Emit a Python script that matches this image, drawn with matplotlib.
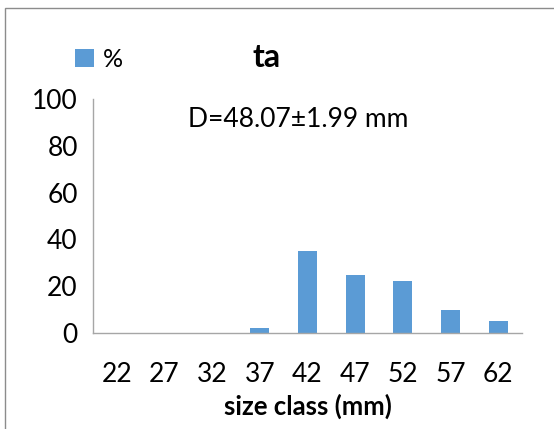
import matplotlib
matplotlib.use("Agg")
import matplotlib.pyplot as plt
from matplotlib.patches import Rectangle

# size classes (mm) and share of individuals (%)
size_classes = ["22", "27", "32", "37", "42", "47", "52", "57", "62"]
percent = [0, 0, 0, 2, 35, 25, 22.3, 10, 5]

BAR_COLOUR = "#5B9BD5"
AXIS_COLOUR = "#A6A6A6"
FONT = "Lato"

plt.rcParams["font.family"] = [FONT, "DejaVu Sans"]

fig = plt.figure(figsize=(5.54, 4.29), dpi=100)
ax = fig.add_axes([0.168, 0.2238, 0.774, 0.545])

x = list(range(len(size_classes)))
ax.bar(x, percent, width=0.4, color=BAR_COLOUR, label="%")

ax.set_xlim(-0.5, len(size_classes) - 0.5)
ax.set_ylim(0, 100)
ax.set_yticks([0, 20, 40, 60, 80, 100])
ax.set_xticks(x)
ax.set_xticklabels(size_classes)
ax.tick_params(axis="both", length=0, labelsize=19)
ax.tick_params(axis="x", pad=21)
ax.tick_params(axis="y", pad=11)

for side in ["top", "right"]:
    ax.spines[side].set_visible(False)
for side in ["left", "bottom"]:
    ax.spines[side].set_color(AXIS_COLOUR)
    ax.spines[side].set_linewidth(1.0)

ax.set_xlabel("size class (mm)", fontsize=18.5, fontweight="bold", labelpad=5)

ax.text(3.8, 91.5, "D=48.07\u00b11.99 mm", ha="center", va="center", fontsize=19)

fig.text(0.482, 0.865, "ta", ha="center", va="center", fontsize=23, fontweight="bold")

ax.legend(loc="center left", bbox_to_anchor=(0.113, 0.862), bbox_transform=fig.transFigure,
          frameon=False, fontsize=18, handlelength=0.75, handleheight=0.75,
          handletextpad=0.35, borderpad=0)

# chart area border
fig.patches.append(Rectangle((5 / 554, -0.1), 1.2, 1 - 8 / 429 + 0.1,
                             transform=fig.transFigure, fill=False,
                             edgecolor="#8C8C8C", linewidth=1.0))

fig.savefig("out.png", dpi=100)
